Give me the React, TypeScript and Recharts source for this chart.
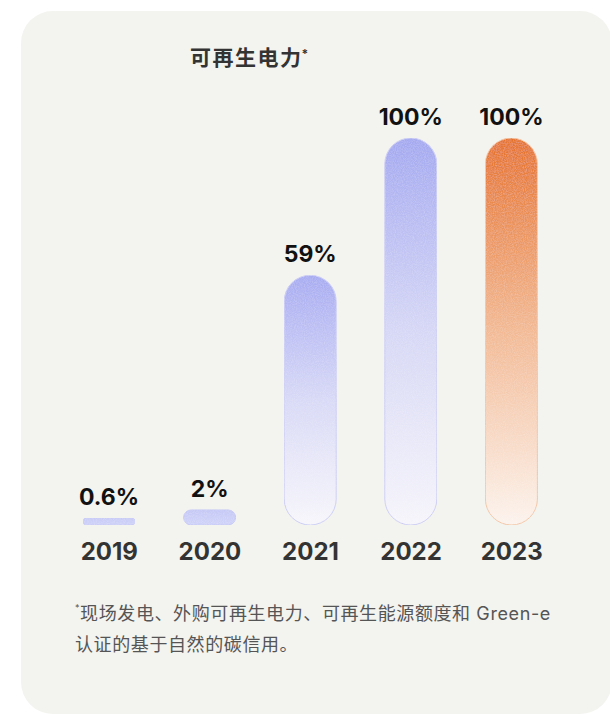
import React from 'react'
import { BarChart, Bar, XAxis, YAxis, Cell, LabelList, Rectangle } from 'recharts'

const years = ['2019', '2020', '2021', '2022', '2023']
const shares = [0.6, 2, 59, 100, 100]

// top / middle / bottom colour of each bar's gradient
const topColors = ['#c8cbf6', '#c5c8f5', '#a7abf1', '#a3a8f0', '#e5722a']
const midColors = ['#cbcef7', '#cbcef7', '#d8d9f6', '#d6d7f5', '#f2b993']
const bottomColors = ['#cfd2f8', '#d0d3f8', '#f7f6fb', '#f6f5fb', '#fcf3ed']
const edgeColors = ['#c8cbf6', '#c5c8f5', '#cbcdf5', '#cccdf4', '#f3c6a6']

const data = years.map((year, i) => ({ year, share: shares[i] }))

const FONT = "Inter, 'Noto Sans CJK SC', sans-serif"

// d3-like power scale so the hidden y axis matches the drawing's compressed bar heights
function powScale(exp: number, dom: number[] = [0, 1], rng: number[] = [0, 1]): any {
  let d = dom.slice()
  let r = rng.slice()
  const f = (v: number) => Math.sign(v) * Math.pow(Math.abs(v), exp)
  const s: any = (v: number) => {
    const t = (f(v) - f(d[0])) / (f(d[d.length - 1]) - f(d[0]))
    return r[0] + t * (r[r.length - 1] - r[0])
  }
  s.domain = (x?: number[]) => {
    if (x === undefined) return d.slice()
    d = Array.from(x, Number)
    return s
  }
  s.range = (x?: number[]) => {
    if (x === undefined) return r.slice()
    r = Array.from(x, Number)
    return s
  }
  s.invert = (y: number) => {
    const t = (y - r[0]) / (r[r.length - 1] - r[0])
    const fv = f(d[0]) + t * (f(d[d.length - 1]) - f(d[0]))
    return Math.sign(fv) * Math.pow(Math.abs(fv), 1 / exp)
  }
  s.ticks = (n = 5) => {
    const out: number[] = []
    const step = (d[d.length - 1] - d[0]) / n
    for (let i = 0; i <= n; i++) out.push(d[0] + step * i)
    return out
  }
  s.tickFormat = () => (v: number) => String(v)
  s.nice = () => s
  s.clamp = () => s
  s.copy = () => powScale(exp, d, r)
  return s
}

const yScale = powScale(0.83)

const YearTick = (props: any) => {
  const { x, y, payload } = props
  return (
    <text x={x} y={y + 35} textAnchor="middle" fill="#333333"
      style={{ fontFamily: FONT, fontSize: 24, fontWeight: 700 }}>
      {payload.value}
    </text>
  )
}

const ValueLabel = (props: any) => {
  const { x, y, width, value } = props
  return (
    <text x={x + width / 2} y={y - 13} textAnchor="middle" fill="#111111"
      style={{ fontFamily: FONT, fontSize: 23, fontWeight: 700 }}>
      {value}%
    </text>
  )
}

const GrainBar = (props: any) => <Rectangle {...props} filter="url(#grain)" />

export default function App() {
  return (
    <div style={{ position: 'absolute', left: 0, top: 0, width: 610, height: 716, background: '#ffffff', overflow: 'hidden' }}>
      <div style={{
        position: 'absolute', left: 21, top: 11, width: 591, height: 703,
        background: '#f3f3ef', borderRadius: 32,
      }} />
      <div style={{
        position: 'absolute', left: 190, top: 46, fontFamily: FONT, fontSize: 21,
        fontWeight: 700, color: '#333333', lineHeight: '24px', letterSpacing: 1.5,
      }}>
        可再生电力<sup style={{ fontSize: 12, verticalAlign: 'top', position: 'relative', top: -4, marginLeft: -1 }}>*</sup>
      </div>
      <div style={{ position: 'absolute', left: 0, top: 0 }}>
        <BarChart width={610} height={716} data={data}
          margin={{ top: 138, right: 48, bottom: 151, left: 59 }}>
          <defs>
            {years.map((y, i) => (
              <linearGradient key={y} id={`barGrad${i}`} x1="0" y1="0" x2="0" y2="1">
                <stop offset="0%" stopColor={topColors[i]} />
                <stop offset="50%" stopColor={midColors[i]} />
                <stop offset="100%" stopColor={bottomColors[i]} />
              </linearGradient>
            ))}
            <filter id="grain" x="0" y="0" width="100%" height="100%">
              <feTurbulence type="fractalNoise" baseFrequency="0.9" numOctaves="2" seed="4" result="noise" />
              <feColorMatrix in="noise" type="matrix"
                values="0 0 0 0 1  0 0 0 0 1  0 0 0 0 1  0.35 0 0 0 -0.12" result="speck" />
              <feComposite in="speck" in2="SourceGraphic" operator="in" result="clipped" />
              <feMerge>
                <feMergeNode in="SourceGraphic" />
                <feMergeNode in="clipped" />
              </feMerge>
            </filter>
          </defs>
          <XAxis dataKey="year" axisLine={false} tickLine={false} tickSize={0} tickMargin={0}
            height={40} interval={0} tick={<YearTick />} />
          <YAxis hide type="number" domain={[0, 100]} scale={yScale} />
          <Bar dataKey="share" barSize={52} radius={26} minPointSize={7}
            isAnimationActive={false} shape={<GrainBar />}>
            {years.map((y, i) => (
              <Cell key={y} fill={`url(#barGrad${i})`} stroke={edgeColors[i]} strokeWidth={1} />
            ))}
            <LabelList dataKey="share" content={<ValueLabel />} />
          </Bar>
        </BarChart>
      </div>
      <div style={{
        position: 'absolute', left: 75, top: 598, width: 540, fontFamily: FONT,
        fontSize: 18, lineHeight: '31px', color: '#555555', letterSpacing: 0.6,
      }}>
        <sup style={{ fontSize: 9, verticalAlign: 'top', position: 'relative', top: -6 }}>*</sup>
        现场发电、外购可再生电力、可再生能源额度和 Green-e<br />
        认证的基于自然的碳信用。
      </div>
    </div>
  )
}
